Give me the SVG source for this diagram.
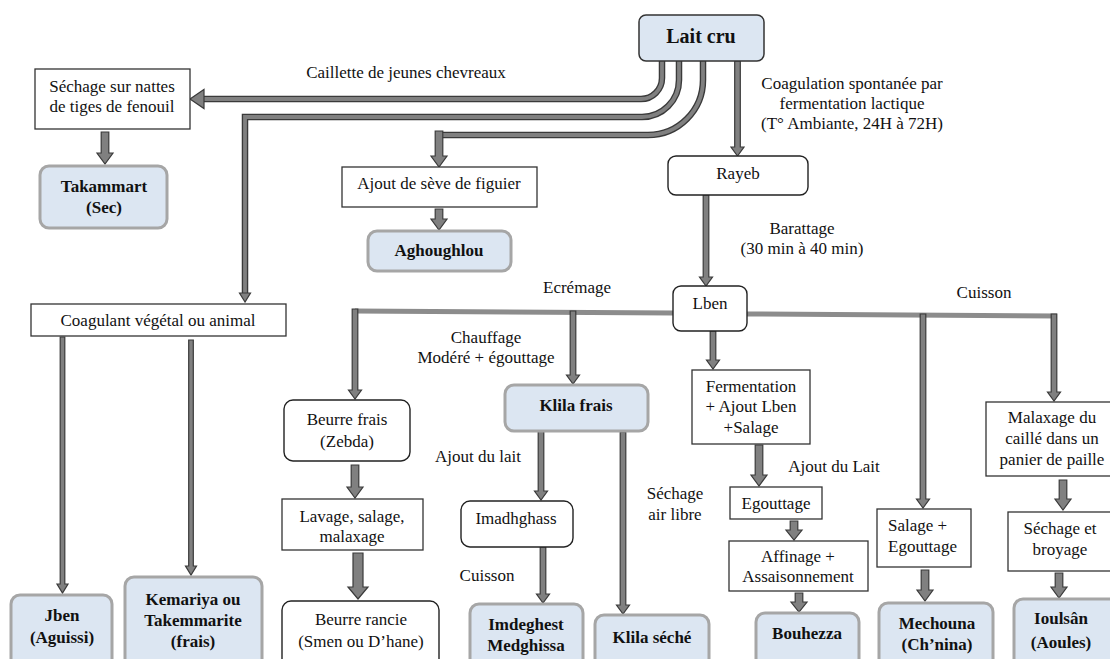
<svg xmlns="http://www.w3.org/2000/svg" width="1110" height="659" viewBox="0 0 1110 659">
<style>
.t{font-family:"Liberation Serif","Times New Roman",serif;font-size:17px;fill:#111;text-anchor:middle}
.s{text-anchor:start}
.b{font-weight:bold}
.box{fill:#fff;stroke:#333;stroke-width:1.3}
.rbox{fill:#fff;stroke:#222;stroke-width:1.4}
.prod{fill:#dce6f2;stroke:#a6a6a6;stroke-width:3}
.main{fill:#dce6f2;stroke:#333;stroke-width:1.5}
.arr{fill:#808080;stroke:#3a3a3a;stroke-width:1.2}
.po{fill:none;stroke:#3a3a3a;stroke-width:6.5}
.pi{fill:none;stroke:#808080;stroke-width:3.8}
.bar{stroke:#8c8c8c;stroke-width:5;fill:none}
</style>
<rect width="1110" height="659" fill="#fff"/>
<g id="connectors">
  <path class="po" d="M662,61 V78 A21,21 0 0 1 641,99 H203"/>
  <path class="pi" d="M662,61 V78 A21,21 0 0 1 641,99 H203"/>
  <polygon class="arr" points="190,99 204,89.5 204,108.5"/>
  <path class="po" d="M679,61 V80 A37,37 0 0 1 642,117 H245 V294"/>
  <path class="pi" d="M679,61 V80 A37,37 0 0 1 642,117 H245 V294"/>
  <polygon class="arr" points="245,302 239.5,293 250.5,293"/>
  <path class="po" d="M703,61 V80 A55,55 0 0 1 648,135 H439"/>
  <path class="pi" d="M703,61 V80 A55,55 0 0 1 648,135 H439"/>
  <polygon class="arr" points="435.2,131 442.8,131 442.8,156 447,156 439,167 431,156 435.2,156"/>
  <line class="bar" x1="355" y1="311" x2="673" y2="313"/>
  <line class="bar" x1="747" y1="314" x2="1057" y2="316"/>
  <polygon class="arr" points="734.7,61 740.3,61 740.3,147 744,147 737.5,156 731,147 734.7,147"/>
  <polygon class="arr" points="703.2,195 708.8,195 708.8,277 712.5,277 706,286 699.5,277 703.2,277"/>
  <polygon class="arr" points="352.2,309 357.8,309 357.8,390 361.5,390 355,399 348.5,390 352.2,390"/>
  <polygon class="arr" points="570.2,311 575.8,311 575.8,375 579.5,375 573,384 566.5,375 570.2,375"/>
  <polygon class="arr" points="710.2,331 715.8,331 715.8,360 719.5,360 713,369 706.5,360 710.2,360"/>
  <polygon class="arr" points="920.2,314 925.8,314 925.8,499 929.5,499 923,508 916.5,499 920.2,499"/>
  <polygon class="arr" points="1051.2,314 1056.8,314 1056.8,392 1060.5,392 1054,401 1047.5,392 1051.2,392"/>
  <polygon class="arr" points="60.2,337 64.8,337 64.8,584 68,584 62.5,593 57,584 60.2,584"/>
  <polygon class="arr" points="188.7,340 193.3,340 193.3,566 196.5,566 191,575 185.5,566 188.7,566"/>
  <polygon class="arr" points="538.2,431 543.8,431 543.8,491 547.5,491 541,500 534.5,491 538.2,491"/>
  <polygon class="arr" points="540.2,547 545.8,547 545.8,594 549.5,594 543,603 536.5,594 540.2,594"/>
  <polygon class="arr" points="620.2,432 625.8,432 625.8,605 629.5,605 623,614 616.5,605 620.2,605"/>
  <polygon class="arr" points="101.2,132 108.8,132 108.8,153 113,153 105,164 97,153 101.2,153"/>
  <polygon class="arr" points="435.2,209 442.8,209 442.8,219 447,219 439,230 431,219 435.2,219"/>
  <polygon class="arr" points="351.2,465 358.8,465 358.8,487 363,487 355,498 347,487 351.2,487"/>
  <polygon class="arr" points="353,553 363,553 363,587 368,587 358,599 348,587 353,587"/>
  <polygon class="arr" points="755.2,445 762.8,445 762.8,475 767,475 759,486 751,475 755.2,475"/>
  <polygon class="arr" points="790.2,521 797.8,521 797.8,530 802,530 794,540 786,530 790.2,530"/>
  <polygon class="arr" points="795.2,593 802.8,593 802.8,602 807,602 799,612 791,602 795.2,602"/>
  <polygon class="arr" points="921.2,570 928.8,570 928.8,590 933,590 925,601 917,590 921.2,590"/>
  <polygon class="arr" points="1059.2,480 1066.8,480 1066.8,499 1071,499 1063,510 1055,499 1059.2,499"/>
  <polygon class="arr" points="1055.2,573 1062.8,573 1062.8,587 1067,587 1059,598 1051,587 1055.2,587"/>
</g>
<g id="labels">
  <text class="t" x="406" y="78">Caillette de jeunes chevreaux</text>
  <text class="t" x="852" y="89">Coagulation spontanée par</text>
  <text class="t" x="852" y="109">fermentation lactique</text>
  <text class="t" x="852" y="129">(T° Ambiante, 24H à 72H)</text>
  <text class="t" x="802" y="234">Barattage</text>
  <text class="t" x="802" y="254">(30 min à 40 min)</text>
  <text class="t" x="577" y="293">Ecrémage</text>
  <text class="t" x="984" y="298">Cuisson</text>
  <text class="t" x="486" y="343">Chauffage</text>
  <text class="t" x="486" y="363">Modéré + égouttage</text>
  <text class="t" x="478" y="462">Ajout du lait</text>
  <text class="t" x="487" y="581">Cuisson</text>
  <text class="t" x="675" y="499">Séchage</text>
  <text class="t" x="675" y="520">air libre</text>
  <text class="t" x="834" y="472">Ajout du Lait</text>
</g>
<g id="n-laitcru"><rect class="main" x="639" y="15" width="125" height="46" rx="7"/><text class="t b" x="701" y="43" style="font-size:20px">Lait cru</text></g>
<g id="n-sechage"><rect class="box" x="35" y="69" width="155" height="60"/><text class="t" x="112" y="92">Séchage sur nattes</text><text class="t" x="112" y="112">de tiges de fenouil</text></g>
<g id="n-takammart"><rect class="prod" x="40" y="166" width="127" height="62" rx="9"/><text class="t b" x="104" y="192">Takammart</text><text class="t b" x="104" y="213">(Sec)</text></g>
<g id="n-ajout"><rect class="box" x="342" y="167" width="195" height="40"/><text class="t" x="439" y="189">Ajout de sève de figuier</text></g>
<g id="n-aghoughlou"><rect class="prod" x="368" y="231" width="143" height="40" rx="9"/><text class="t b" x="439" y="256">Aghoughlou</text></g>
<g id="n-rayeb"><rect class="rbox" x="668" y="156" width="140" height="39" rx="8"/><text class="t" x="738" y="179">Rayeb</text></g>
<g id="n-lben"><rect class="rbox" x="673" y="286" width="74" height="45" rx="8"/><text class="t" x="710" y="309">Lben</text></g>
<g id="n-coagulant"><rect class="box" x="31" y="304" width="255" height="32"/><text class="t" x="158" y="326">Coagulant végétal ou animal</text></g>
<g id="n-jben"><rect class="prod" x="11" y="595" width="101" height="90" rx="9"/><text class="t b" x="62" y="621">Jben</text><text class="t b" x="62" y="643">(Aguissi)</text></g>
<g id="n-kemariya"><rect class="prod" x="125" y="577" width="137" height="100" rx="9"/><text class="t b" x="193" y="605">Kemariya ou</text><text class="t b" x="193" y="626">Takemmarite</text><text class="t b" x="193" y="647">(frais)</text></g>
<g id="n-beurrefrais"><rect class="rbox" x="284" y="400" width="126" height="61" rx="9"/><text class="t" x="347" y="425">Beurre frais</text><text class="t" x="347" y="447">(Zebda)</text></g>
<g id="n-lavage"><rect class="box" x="282" y="499" width="141" height="51"/><text class="t" x="352" y="522">Lavage, salage,</text><text class="t" x="352" y="542">malaxage</text></g>
<g id="n-beurrerancie"><rect class="rbox" x="282" y="601" width="157" height="80" rx="9"/><text class="t" x="361" y="625">Beurre rancie</text><text class="t" x="361" y="647">(Smen ou D’hane)</text></g>
<g id="n-klilafrais"><rect class="prod" x="505" y="385" width="143" height="46" rx="9"/><text class="t b" x="576" y="411">Klila frais</text></g>
<g id="n-imadhghass"><rect class="rbox" x="461" y="501" width="112" height="46" rx="9"/><text class="t" x="516" y="524">Imadhghass</text></g>
<g id="n-imdeghest"><rect class="prod" x="470" y="604" width="113" height="80" rx="9"/><text class="t b" x="526" y="630">Imdeghest</text><text class="t b" x="526" y="651">Medghissa</text></g>
<g id="n-klilaseche"><rect class="prod" x="595" y="615" width="114" height="70" rx="9"/><text class="t b" x="652" y="643">Klila séché</text></g>
<g id="n-fermentation"><rect class="box" x="692" y="370" width="118" height="74"/><text class="t" x="751" y="392">Fermentation</text><text class="t" x="751" y="412">+ Ajout Lben</text><text class="t" x="751" y="433">+Salage</text></g>
<g id="n-egouttage"><rect class="box" x="730" y="487" width="92" height="32"/><text class="t" x="776" y="509">Egouttage</text></g>
<g id="n-affinage"><rect class="box" x="729" y="541" width="139" height="50"/><text class="t" x="798" y="562">Affinage +</text><text class="t" x="798" y="582">Assaisonnement</text></g>
<g id="n-bouhezza"><rect class="prod" x="756" y="613" width="103" height="70" rx="9"/><text class="t b" x="807" y="639">Bouhezza</text></g>
<g id="n-salage"><rect class="box" x="877" y="509" width="94" height="58"/><text class="t s" x="888" y="531">Salage +</text><text class="t s" x="888" y="552">Egouttage</text></g>
<g id="n-mechouna"><rect class="prod" x="879" y="603" width="114" height="80" rx="9"/><text class="t b" x="937" y="629">Mechouna</text><text class="t b" x="937" y="650">(Ch’nina)</text></g>
<g id="n-malaxage"><rect class="box" x="986" y="402" width="130" height="74"/><text class="t" x="1052" y="423">Malaxage du</text><text class="t" x="1052" y="444">caillé dans un</text><text class="t" x="1052" y="465">panier de paille</text></g>
<g id="n-sechagebroyage"><rect class="box" x="1008" y="512" width="110" height="59"/><text class="t" x="1060" y="534">Séchage et</text><text class="t" x="1060" y="555">broyage</text></g>
<g id="n-ioulsan"><rect class="prod" x="1014" y="599" width="110" height="90" rx="9"/><text class="t b" x="1061" y="624">Ioulsân</text><text class="t b" x="1061" y="648">(Aoules)</text></g>
</svg>
